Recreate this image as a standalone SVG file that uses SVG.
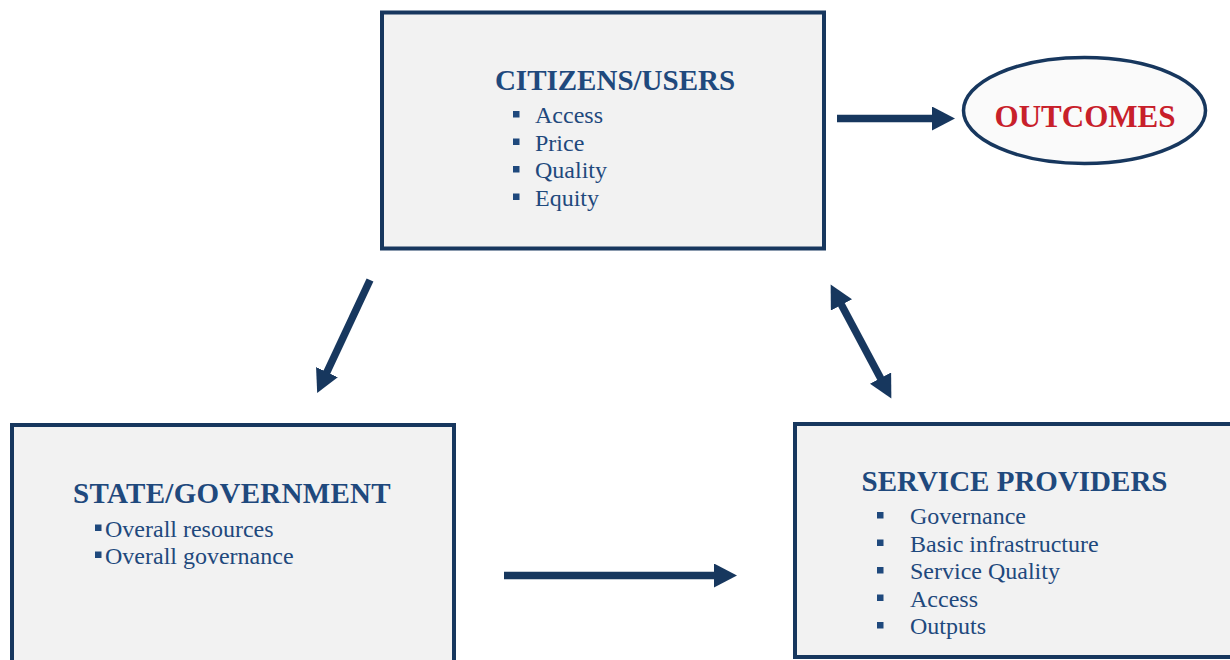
<svg xmlns="http://www.w3.org/2000/svg" width="1230" height="660" viewBox="0 0 1230 660">
  <style>
    .box { fill: #F2F2F2; stroke: #17375E; stroke-width: 4; }
    .title { font-family: "Liberation Serif", "Times New Roman", serif; font-weight: bold; font-size: 29px; fill: #1F497D; }
    .item { font-family: "Liberation Serif", "Times New Roman", serif; font-size: 24px; fill: #1F497D; }
    .bullet { fill: #1F497D; }
    .conn { stroke: #17375E; stroke-width: 7.5; fill: none; }
    .outcome { font-family: "Liberation Serif", "Times New Roman", serif; font-weight: bold; font-size: 31px; fill: #C8202A; }
  </style>
  <defs>
    <marker id="head" markerUnits="userSpaceOnUse" markerWidth="24" markerHeight="24" viewBox="0 0 24 24" refX="1" refY="12" orient="auto-start-reverse">
      <path d="M0,0 L23,12 L0,24 Z" fill="#17375E"/>
    </marker>
  </defs>
  <rect width="1230" height="660" fill="#FFFFFF"/>

  <g id="citizens">
    <rect class="box" x="382" y="12.5" width="442" height="236"/>
    <text class="title" x="615" y="90" text-anchor="middle">CITIZENS/USERS</text>
    <rect class="bullet" x="513" y="111" width="6.5" height="6.5"/>
    <text class="item" x="535" y="123">Access</text>
    <rect class="bullet" x="513" y="138.5" width="6.5" height="6.5"/>
    <text class="item" x="535" y="150.5">Price</text>
    <rect class="bullet" x="513" y="166" width="6.5" height="6.5"/>
    <text class="item" x="535" y="178">Quality</text>
    <rect class="bullet" x="513" y="193.5" width="6.5" height="6.5"/>
    <text class="item" x="535" y="205.5">Equity</text>
  </g>

  <g id="outcomes">
    <ellipse cx="1084.5" cy="110.5" rx="121" ry="53" fill="#FAFAFA" stroke="#17375E" stroke-width="3.5"/>
    <text class="outcome" x="1085" y="127" text-anchor="middle">OUTCOMES</text>
  </g>

  <g id="state">
    <rect class="box" x="12" y="425" width="442" height="250"/>
    <text class="title" x="232" y="502.5" text-anchor="middle" letter-spacing="0.3">STATE/GOVERNMENT</text>
    <rect class="bullet" x="95" y="524.5" width="6.5" height="6.5"/>
    <text class="item" x="105" y="537">Overall resources</text>
    <rect class="bullet" x="95" y="551.5" width="6.5" height="6.5"/>
    <text class="item" x="105" y="564">Overall governance</text>
  </g>

  <g id="providers">
    <rect class="box" x="795" y="424" width="450" height="233"/>
    <text class="title" x="1014.5" y="491" text-anchor="middle">SERVICE PROVIDERS</text>
    <rect class="bullet" x="877" y="512" width="6.5" height="6.5"/>
    <text class="item" x="910" y="524">Governance</text>
    <rect class="bullet" x="877" y="539.5" width="6.5" height="6.5"/>
    <text class="item" x="910" y="551.5">Basic infrastructure</text>
    <rect class="bullet" x="877" y="567" width="6.5" height="6.5"/>
    <text class="item" x="910" y="579">Service Quality</text>
    <rect class="bullet" x="877" y="594.5" width="6.5" height="6.5"/>
    <text class="item" x="910" y="606.5">Access</text>
    <rect class="bullet" x="877" y="622" width="6.5" height="6.5"/>
    <text class="item" x="910" y="634">Outputs</text>
  </g>

  <g id="connectors">
    <line class="conn" x1="837" y1="118.5" x2="933" y2="118.5" marker-end="url(#head)"/>
    <line class="conn" x1="370" y1="280" x2="326.5" y2="373" marker-end="url(#head)"/>
    <line class="conn" x1="841" y1="304" x2="881" y2="379" marker-start="url(#head)" marker-end="url(#head)"/>
    <line class="conn" x1="504" y1="575.5" x2="715" y2="575.5" marker-end="url(#head)"/>
  </g>
</svg>
